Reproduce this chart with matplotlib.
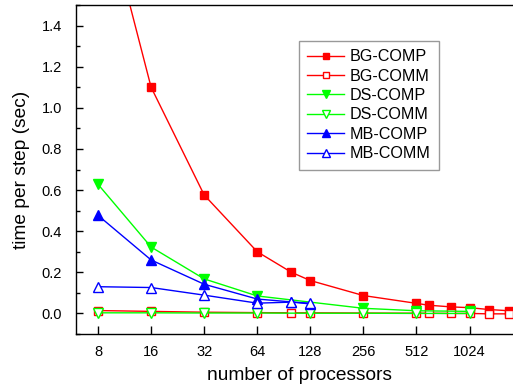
import matplotlib
matplotlib.use("Agg")
import matplotlib.pyplot as plt
from matplotlib.ticker import FixedLocator, MultipleLocator, NullLocator, FormatStrFormatter

plt.rcParams['font.family'] = ['Liberation Sans', 'DejaVu Sans']

# data
bg_x = [8, 16, 32, 64, 100, 128, 256, 512, 600, 800, 1024, 1320, 1720]
bg_comp = [2.1, 1.10, 0.576, 0.30, 0.20, 0.16, 0.087, 0.049, 0.040, 0.032, 0.028, 0.019, 0.013]
bg_comm = [0.014, 0.010, 0.006, 0.004, 0.003, 0.003, 0.002, 0.001, 0.001, 0.0, 0.0, -0.002, -0.002]

ds_comp_x = [8, 16, 32, 64, 256, 512, 1024]
ds_comp = [0.628, 0.323, 0.168, 0.085, 0.025, 0.013, 0.010]
ds_comm_x = [8, 16, 32, 64, 128, 256, 512, 1024]
ds_comm = [0.003, 0.003, 0.002, 0.002, 0.001, 0.001, 0.0, 0.0]

mb_x = [8, 16, 32, 64, 100, 128]
mb_comp = [0.477, 0.26, 0.142, 0.070, 0.056, 0.046]
mb_comm = [0.130, 0.126, 0.089, 0.050, 0.055, 0.050]

xticks = [8, 16, 32, 64, 128, 256, 512, 1024]
xticklabels = ['8', '16', '32', '64', '128', '256', '512', '1024']

fig = plt.figure(figsize=(5.13, 3.87), dpi=100)
ax = fig.add_axes([76/513, 53/387, 446.6/513, 329/387])

ms = 5.5
ax.plot(bg_x, bg_comp, color='#ff0000', lw=1, marker='s', ms=ms, mfc='#ff0000', mec='#ff0000', label='BG-COMP')
ax.plot(bg_x, bg_comm, color='#ff0000', lw=1, marker='s', ms=ms, mfc='white', mec='#ff0000', label='BG-COMM')
ax.plot(ds_comp_x, ds_comp, color='#00ff00', lw=1, marker='v', ms=ms+1.5, mfc='#00ff00', mec='#00ff00', label='DS-COMP')
ax.plot(ds_comm_x, ds_comm, color='#00ff00', lw=1, marker='v', ms=ms+1.5, mfc='white', mec='#00ff00', label='DS-COMM')
ax.plot(mb_x, mb_comp, color='#0000ff', lw=1, marker='^', ms=ms+1.5, mfc='#0000ff', mec='#0000ff', label='MB-COMP')
ax.plot(mb_x, mb_comm, color='#0000ff', lw=1, marker='^', ms=ms+1.5, mfc='white', mec='#0000ff', label='MB-COMM')

ax.set_xscale('log', base=2)
ax.set_xlim(6, 2048)
ax.set_ylim(-0.1, 1.5)
ax.xaxis.set_major_locator(FixedLocator(xticks))
ax.set_xticklabels(xticklabels)
ax.xaxis.set_minor_locator(NullLocator())
ax.yaxis.set_major_locator(MultipleLocator(0.2))
ax.yaxis.set_minor_locator(MultipleLocator(0.1))
ax.yaxis.set_major_formatter(FormatStrFormatter('%.1f'))

ax.tick_params(axis='both', which='major', direction='in', length=5, width=1, labelsize=10.5)
ax.tick_params(axis='y', which='major', pad=10)
ax.tick_params(axis='y', which='minor', direction='in', length=3, width=1)
ax.tick_params(axis='x', which='major', length=6, pad=8)
for s in ax.spines.values():
    s.set_linewidth(1)

ax.set_xlabel('number of processors', fontsize=13.8, labelpad=6)
ax.set_ylabel('time per step (sec)', fontsize=13.8, labelpad=8)

leg = ax.legend(loc='center', bbox_to_anchor=((369-76)/446.6, (334-105.3)/329), fontsize=11.6,
                frameon=True, fancybox=False, edgecolor='#808080', borderpad=0.55,
                handlelength=2.25, handletextpad=0.37, labelspacing=0.27, borderaxespad=0,
                markerscale=0.85)
leg.get_frame().set_linewidth(1)

fig.savefig('out.png', dpi=100)
